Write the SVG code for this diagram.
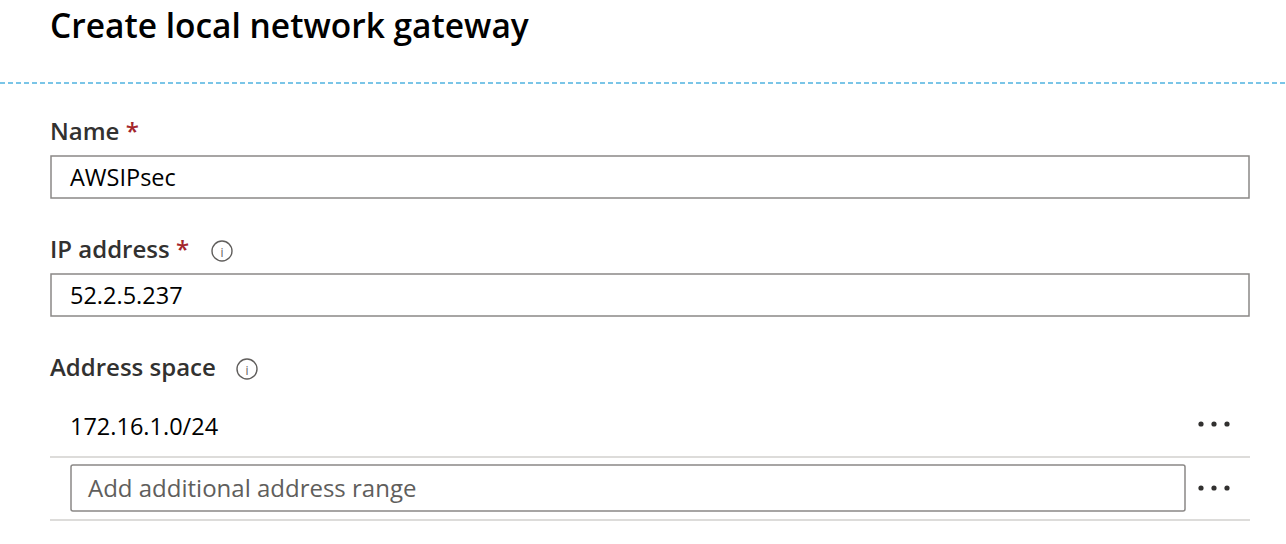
<svg xmlns="http://www.w3.org/2000/svg" width="1286" height="544" viewBox="0 0 1286 544">
<style>
text{font-family:"Open Sans","Noto Sans",sans-serif;fill:#000}
.lbl{font-size:24px;font-weight:600;fill:#323130}
.val{font-size:23.5px;fill:#000}
.req{fill:#a4262c;font-size:24px;font-weight:600}
.box{fill:#fff;stroke:#8a8886;stroke-width:1.5}
.sep{stroke:#d2d0ce;stroke-width:1.5}
.dot{fill:#323130}
.info{fill:none;stroke:#605e5c;stroke-width:1.4}
</style>
<rect width="1286" height="544" fill="#fff"/>
<text x="50" y="38" style="font-size:33.5px;font-weight:600">Create local network gateway</text>
<line x1="0" y1="83" x2="1286" y2="83" stroke="#4fb3e0" stroke-width="1.5" stroke-dasharray="5,3"/>
<g id="name">
<text x="50" y="140" class="lbl">Name <tspan class="req">*</tspan></text>
<rect x="51" y="156" width="1198" height="42" class="box"/>
<text x="70" y="186" class="val">AWSIPsec</text>
</g>
<g id="ip">
<text x="50" y="258" class="lbl">IP address <tspan class="req">*</tspan></text>
<circle cx="222" cy="251" r="10" class="info"/>
<text x="222" y="257" text-anchor="middle" style="font-size:12px;fill:#605e5c">i</text>
<rect x="51" y="274" width="1198" height="42" class="box"/>
<text x="70" y="304" class="val">52.2.5.237</text>
</g>
<g id="space">
<text x="50" y="376" class="lbl">Address space</text>
<circle cx="247" cy="369" r="10" class="info"/>
<text x="247" y="375" text-anchor="middle" style="font-size:12px;fill:#605e5c">i</text>
<text x="70" y="435" class="val">172.16.1.0/24</text>
<circle cx="1201" cy="424" r="2.6" class="dot"/><circle cx="1214" cy="424" r="2.6" class="dot"/><circle cx="1227" cy="424" r="2.6" class="dot"/>
<line x1="50" y1="457" x2="1250" y2="457" class="sep"/>
<rect x="71" y="465" width="1114" height="46" rx="2" class="box"/>
<text x="88" y="497" class="val" style="fill:#605e5c;font-size:24px">Add additional address range</text>
<circle cx="1201" cy="488" r="2.6" class="dot"/><circle cx="1214" cy="488" r="2.6" class="dot"/><circle cx="1227" cy="488" r="2.6" class="dot"/>
<line x1="50" y1="520" x2="1250" y2="520" class="sep"/>
</g>
</svg>
